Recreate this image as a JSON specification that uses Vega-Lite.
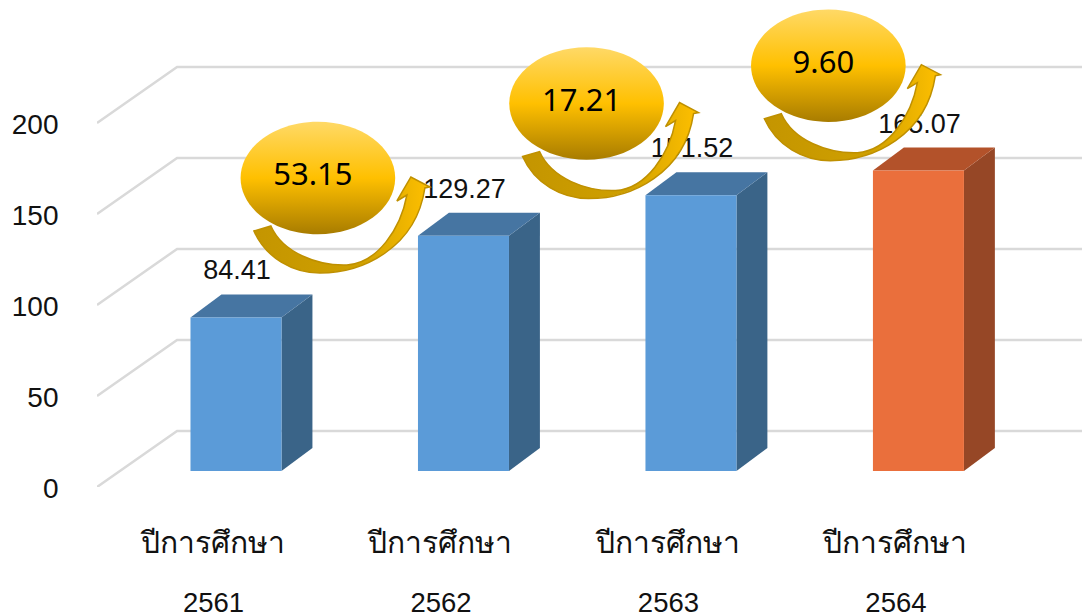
{"$schema":"https://vega.github.io/schema/vega-lite/v6.json","width":985,"height":487,"autosize":"none","padding":{"left":97,"top":0,"right":0,"bottom":129},"background":"white","config":{"view":{"stroke":null}},"datasets":{"bars":[{"year":2561,"value":84.41,"kind":"blue","term":"ปีการศึกษา"},{"year":2562,"value":129.27,"kind":"blue","term":"ปีการศึกษา"},{"year":2563,"value":151.52,"kind":"blue","term":"ปีการศึกษา"},{"year":2564,"value":165.07,"kind":"orange","term":"ปีการศึกษา"}],"levels":[{"level":0},{"level":50},{"level":100},{"level":150},{"level":200}],"growth":[{"year":2561.36,"value":161.0,"rate":"53.15"},{"year":2562.541,"value":201.9,"rate":"17.21"},{"year":2563.604,"value":222.7,"rate":"9.60"}]},"resolve":{"scale":{"color":"independent"}},"layer":[{"data":{"name":"levels"},"transform":[{"calculate":"2560.389","as":"p0"},{"calculate":"2560.741","as":"p1"},{"calculate":"2564.719","as":"p2"},{"fold":["p0","p1","p2"],"as":["pt","wx"]},{"calculate":"datum.pt==='p0' ? datum.level-8.79 : datum.level+22","as":"wy"}],"mark":{"type":"line","color":"#d9d9d9","strokeWidth":2.5,"clip":true},"encoding":{"x":{"field":"wx","type":"quantitative","scale":{"domain":[2560.389,2564.719],"nice":false,"zero":false,"padding":0},"axis":{"values":[2561,2562,2563,2564],"format":"d","title":null,"grid":false,"domain":false,"ticks":false,"labelFont":"Liberation Sans","labelFontSize":27.5,"labelColor":"#111111","labelOffset":-23,"labelPadding":102,"labelBaseline":"top","labelFlush":false,"labelOverlap":false}},"y":{"field":"wy","type":"quantitative","scale":{"domain":[-8.79,258.8],"nice":false,"zero":false,"padding":0},"axis":{"values":[0,50,100,150,200],"title":null,"grid":false,"domain":false,"ticks":false,"labelFont":"Liberation Sans","labelFontSize":28,"labelColor":"#111111","labelOffset":18,"labelPadding":39,"labelFlush":false,"labelOverlap":false}},"detail":{"field":"level"}}},{"data":{"name":"bars"},"transform":[{"calculate":"datum.year+0.2","as":"xNear"},{"calculate":"datum.year+0.336","as":"xFar"},{"fold":["xNear","xFar"],"as":["corner","sx"]},{"calculate":"datum.corner==='xFar' ? 12.64 : 0","as":"y0"},{"calculate":"datum.value+datum.y0","as":"y1"}],"mark":{"type":"area","orient":"vertical"},"encoding":{"x":{"field":"sx","type":"quantitative"},"y":{"field":"y1","type":"quantitative"},"y2":{"field":"y0"},"detail":{"field":"year"},"color":{"field":"kind","type":"nominal","legend":null,"scale":{"domain":["blue","orange"],"range":["#3a6488","#964726"]}}}},{"data":{"name":"bars"},"transform":[{"calculate":"datum.value","as":"yNear"},{"calculate":"datum.value+12.64","as":"yFar"},{"fold":["yNear","yFar"],"as":["corner","ty"]},{"calculate":"datum.year-0.2+(datum.corner==='yFar' ? 0.136 : 0)","as":"tx0"},{"calculate":"datum.tx0+0.4","as":"tx1"}],"mark":{"type":"area","orient":"horizontal"},"encoding":{"y":{"field":"ty","type":"quantitative"},"x":{"field":"tx0","type":"quantitative"},"x2":{"field":"tx1"},"detail":{"field":"year"},"color":{"field":"kind","type":"nominal","legend":null,"scale":{"domain":["blue","orange"],"range":["#4675a2","#b3522a"]}}}},{"data":{"name":"bars"},"mark":{"type":"bar","size":91},"encoding":{"x":{"field":"year","type":"quantitative"},"y":{"field":"value","type":"quantitative"},"color":{"field":"kind","type":"nominal","legend":null,"scale":{"domain":["blue","orange"],"range":["#5b9bd8","#ea6f3c"]}}}},{"data":{"name":"bars"},"mark":{"type":"text","font":"Liberation Sans","fontSize":27,"dy":-46,"dx":1,"color":"#111111"},"encoding":{"x":{"field":"year","type":"quantitative"},"y":{"field":"value","type":"quantitative"},"text":{"field":"value","type":"quantitative","format":".2f"}}},{"data":{"name":"bars"},"mark":{"type":"text","font":"Liberation Sans","fontSize":30,"dx":-23,"color":"#111111"},"encoding":{"x":{"field":"year","type":"quantitative"},"y":{"datum":-40.1},"text":{"field":"term","type":"nominal"}}},{"data":{"name":"growth"},"mark":{"type":"point","filled":true,"size":4,"opacity":1,"strokeWidth":1.5,"stroke":"#bf9000","shape":"M-64,53 C-52,80 -25,95 2,95 C45,95 98,70 107,10 L112,9 L93,-1 L79,23 L89,17 C83,50 60,85 29,87 C0,88 -35,75 -47,48 Z","fill":{"gradient":"linear","x1":0,"y1":0,"x2":1,"y2":0,"stops":[{"offset":0,"color":"#c49500"},{"offset":0.6,"color":"#cfa000"},{"offset":1,"color":"#ffc000"}]}},"encoding":{"x":{"field":"year","type":"quantitative"},"y":{"field":"value","type":"quantitative"}}},{"data":{"name":"growth"},"mark":{"type":"point","filled":true,"size":4,"opacity":1,"shape":"M-77.3,0 A77.3,56.2 0 1,1 77.3,0 A77.3,56.2 0 1,1 -77.3,0 Z","fill":{"gradient":"linear","x1":0,"y1":0,"x2":0,"y2":1,"stops":[{"offset":0,"color":"#ffd966"},{"offset":0.5,"color":"#ffc000"},{"offset":1,"color":"#a87c00"}]}},"encoding":{"x":{"field":"year","type":"quantitative"},"y":{"field":"value","type":"quantitative"}}},{"data":{"name":"growth"},"mark":{"type":"text","font":"Noto Sans","fontSize":31,"color":"#000000","dy":-2,"dx":-5},"encoding":{"x":{"field":"year","type":"quantitative"},"y":{"field":"value","type":"quantitative"},"text":{"field":"rate","type":"nominal"}}}]}
